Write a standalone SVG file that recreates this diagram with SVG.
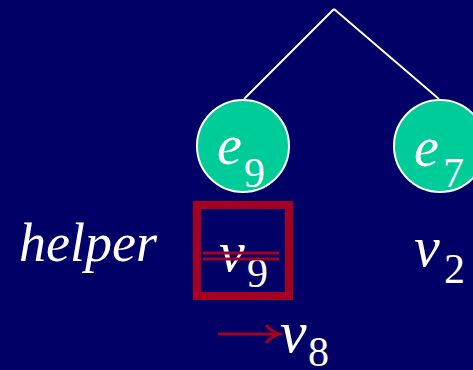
<svg xmlns="http://www.w3.org/2000/svg" width="473" height="370" viewBox="0 0 473 370">
<style>
.it{font-family:"Liberation Serif","Times New Roman",serif;font-style:italic;fill:#fff}
.sub{font-family:"Liberation Serif","Times New Roman",serif;fill:#fff}
.node{fill:#00CC99;stroke:#fff;stroke-width:2}
.edge{stroke:#fff;stroke-width:2;fill:none}
.red{stroke:#A50021;fill:none}
</style>
<rect width="473" height="370" fill="#000066"/>
<g id="connectors">
<line class="edge" x1="334" y1="9" x2="244" y2="99"/>
<line class="edge" x1="334" y1="9" x2="439" y2="99"/>
</g>
<g id="e9">
<circle class="node" cx="243" cy="146" r="46"/>
<text class="it" x="217" y="164" font-size="56">e</text>
<text class="sub" x="244" y="187" font-size="42">9</text>
</g>
<g id="e7">
<circle class="node" cx="440" cy="146" r="46"/>
<text class="it" x="414" y="166" font-size="56">e</text>
<text class="sub" x="443" y="187" font-size="42">7</text>
</g>
<g id="helper">
<text class="it" x="19" y="261" font-size="54">helper</text>
</g>
<g id="v9">
<rect class="red" x="197" y="205" width="92" height="91" stroke-width="8"/>
<text class="it" x="219" y="271" font-size="58">v</text>
<text class="sub" x="247" y="287" font-size="42">9</text>
<line class="red" x1="203" y1="253" x2="279" y2="253" stroke-width="3"/>
<line class="red" x1="203" y1="259" x2="279" y2="259" stroke-width="3"/>
</g>
<g id="v2">
<text class="it" x="414" y="266" font-size="58">v</text>
<text class="sub" x="444" y="283" font-size="42">2</text>
</g>
<g id="v8">
<line class="red" x1="218" y1="334" x2="276" y2="334" stroke-width="3"/>
<path class="red" d="M266 325 Q272 332 279 334 Q272 336 266 343" stroke-width="3"/>
<text class="it" x="280" y="352" font-size="60">v</text>
<text class="sub" x="308" y="366" font-size="42">8</text>
</g>
</svg>
